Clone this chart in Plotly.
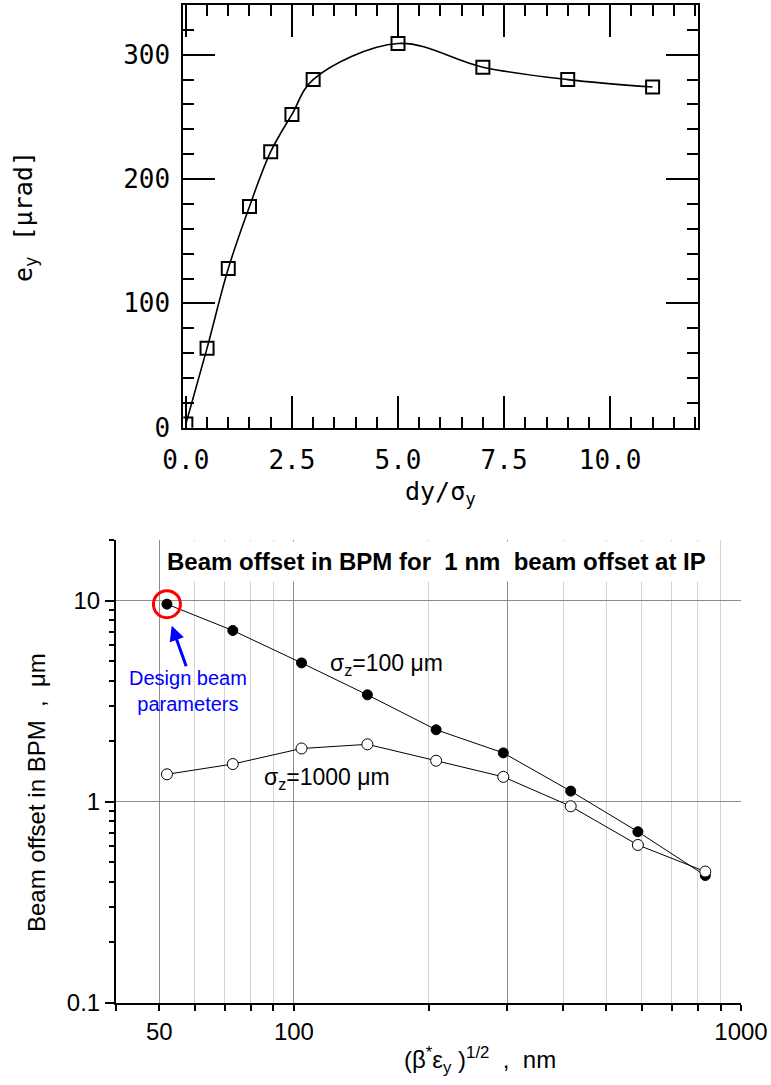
import plotly.graph_objects as go
import math

# ---------------- data ----------------
# top panel: deflection angle vs offset
dy_sigma = [0.0, 0.5, 1.0, 1.5, 2.0, 2.5, 3.0, 5.0, 7.0, 9.0, 11.0]
e_y_urad = [3, 64, 128, 178, 222, 252, 280, 309, 290, 280, 274]
top_xticks = [0, 2.5, 5, 7.5, 10]
top_xtext = ["0.0", "2.5", "5.0", "7.5", "10.0"]
top_yticks = [0, 100, 200, 300]
top_ytext = ["0", "100", "200", "300"]

# bottom panel: beam offset in BPM
beam_size_nm = [52, 73, 104, 146, 208, 294, 416, 588, 832]
offset_sz100 = [9.6, 7.1, 4.9, 3.4, 2.28, 1.75, 1.13, 0.71, 0.43]
offset_sz1000 = [1.37, 1.54, 1.84, 1.93, 1.6, 1.33, 0.95, 0.61, 0.45]
bot_xticks = [50, 100, 300, 1000]
bot_xtext = ["50", "100", "", "1000"]
bot_xminor = [40, 60, 70, 80, 90, 200, 400, 500, 600, 700, 800, 900]
bot_yticks = [0.1, 1, 10]
bot_ytext = ["0.1", "1", "10"]
bot_yminor = [0.2, 0.3, 0.4, 0.5, 0.6, 0.7, 0.8, 0.9, 2, 3, 4, 5, 6, 7, 8, 9, 20]

W, H = 771, 1085
MONO = "DejaVu Sans Mono"
SANS = "Liberation Sans, Arial, sans-serif"

fig = go.Figure()

# top panel
fig.add_trace(go.Scatter(
    x=dy_sigma, y=e_y_urad, mode="lines", line=dict(color="black", width=1.6, shape="spline", smoothing=1.0),
    xaxis="x", yaxis="y", showlegend=False, hoverinfo="skip"))
fig.add_trace(go.Scatter(
    x=dy_sigma, y=e_y_urad, mode="markers",
    marker=dict(symbol="square-open", size=13, color="black", line=dict(width=2, color="black")),
    xaxis="x", yaxis="y", showlegend=False))

# bottom panel
fig.add_trace(go.Scatter(
    x=beam_size_nm, y=offset_sz100, mode="lines+markers",
    line=dict(color="black", width=1),
    marker=dict(symbol="circle", size=10, color="black", line=dict(width=1, color="black")),
    xaxis="x2", yaxis="y2", showlegend=False))
fig.add_trace(go.Scatter(
    x=beam_size_nm, y=offset_sz1000, mode="lines+markers",
    line=dict(color="black", width=1),
    marker=dict(symbol="circle", size=11, color="white", line=dict(width=1, color="black")),
    xaxis="x2", yaxis="y2", showlegend=False))
# design point highlight
fig.add_trace(go.Scatter(
    x=beam_size_nm[:1], y=offset_sz100[:1], mode="markers",
    marker=dict(symbol="circle-open", size=27, color="red", line=dict(width=3, color="red")),
    xaxis="x2", yaxis="y2", showlegend=False))

top_axis = dict(showline=True, linecolor="black", linewidth=2, mirror="ticks",
                ticks="inside", tickcolor="black", tickwidth=2, ticklen=32,
                showgrid=False, zeroline=False, automargin=False,
                tickfont=dict(family=MONO, size=26, color="black"))

fig.update_layout(
    width=W, height=H, margin=dict(l=0, r=0, t=0, b=0, autoexpand=False),
    paper_bgcolor="white", plot_bgcolor="white",
    xaxis=dict(top_axis, domain=[183.3 / W, 698 / W], anchor="y", range=[-0.06, 12.07],
               tickmode="array", tickvals=top_xticks, ticktext=top_xtext, ticklabelstandoff=8,
               minor=dict(ticks="inside", ticklen=11, tickwidth=2, tickcolor="black", dtick=0.5, tick0=0)),
    yaxis=dict(top_axis, domain=[1 - 427.7 / H, 1 - 5 / H], anchor="x", range=[0, 340],
               tickmode="array", tickvals=top_yticks, ticktext=top_ytext, ticklabelstandoff=6,
               minor=dict(ticks="inside", ticklen=11, tickwidth=2, tickcolor="black", dtick=20, tick0=0)),
    xaxis2=dict(domain=[116 / W, 741 / W], anchor="y2", type="log", range=[math.log10(40), 3],
                showline=True, linecolor="black", linewidth=2, zeroline=False, automargin=False,
                ticks="outside", ticklen=6, tickwidth=1.5, tickcolor="black",
                tickmode="array", tickvals=bot_xticks, ticktext=bot_xtext,
                showgrid=True, gridcolor="#8c8c8c", gridwidth=1,
                tickfont=dict(family=SANS, size=24, color="black"),
                minor=dict(tickmode="array", tickvals=bot_xminor, ticks="outside", ticklen=6,
                           tickwidth=1.5, tickcolor="black", showgrid=True, gridcolor="#d4d4d4", gridwidth=1)),
    yaxis2=dict(domain=[1 - 1003 / H, 1 - 540 / H], anchor="x2", type="log", range=[-1, math.log10(20)],
                showline=True, linecolor="black", linewidth=2, zeroline=False, automargin=False,
                ticks="outside", ticklen=9, tickwidth=1.5, tickcolor="black",
                tickmode="array", tickvals=bot_yticks, ticktext=bot_ytext,
                showgrid=True, gridcolor="#8c8c8c", gridwidth=1,
                tickfont=dict(family=SANS, size=24, color="black"),
                minor=dict(tickmode="array", tickvals=bot_yminor, ticks="outside", ticklen=5,
                           tickwidth=1.5, tickcolor="black", showgrid=False)),
)


def note(text, px, py, size, family=SANS, color="black", angle=0, **kw):
    return dict(text=text, x=px / W, y=1 - py / H, xref="paper", yref="paper",
                xanchor="center", yanchor="middle", textangle=angle, showarrow=False,
                font=dict(family=family, size=size, color=color), **kw)


ann = [
    note("e<sub>y</sub> [μrad]", 25, 217, 25, family=MONO, angle=-90),
    note("dy/σ<sub>y</sub>", 440, 493, 25, family=MONO),
    note("<b>Beam offset in BPM for \u00a01 nm \u00a0beam offset at IP</b>", 436, 561, 24,
         bgcolor="white", borderpad=6),
    note("Beam offset in BPM \u00a0, \u00a0μm", 36, 793, 24, angle=-90),
    note("(β<sup>*</sup>ε<sub>y</sub> )<sup>1/2</sup> \u00a0, \u00a0nm", 480, 1060, 24),
    note("σ<sub>z</sub>=100 μm", 386, 664, 23),
    note("σ<sub>z</sub>=1000 μm", 327, 778, 23),
    note("Design beam<br>parameters", 188, 691, 20, color="blue"),
    # arrow pointing to design point
    dict(text="", x=math.log10(53.3), y=math.log10(7.5), xref="x2", yref="y2",
         ax=15, ay=42, showarrow=True, arrowhead=2, arrowsize=1, arrowwidth=3,
         arrowcolor="blue", standoff=0),
]
fig.update_layout(annotations=ann)

fig.write_html("out.html")
